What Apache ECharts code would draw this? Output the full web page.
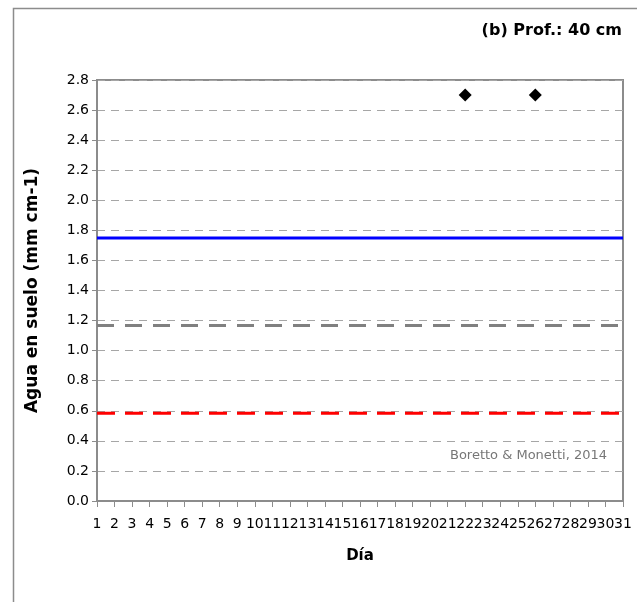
<!DOCTYPE html>
<html>
<head>
<meta charset="utf-8">
<script src="https://cdn.jsdelivr.net/npm/echarts@6/dist/echarts.min.js"></script>
<style>html,body{margin:0;padding:0;background:#fff}#c{width:637px;height:602px}</style>
</head>
<body>
<div id="c"></div>
<script>
// Data
var days = ['1','2','3','4','5','6','7','8','9','10','11','12','13','14','15','16','17','18','19','20','21','22','23','24','25','26','27','28','29','30','31'];
var obsDays = ['22', '26'];
var obsValues = [2.7, 2.7];
var lineDays = ['1', '31'];
var capacidadCampo = [1.75, 1.75];
var umbral = [1.167, 1.167];
var puntoMarchitez = [0.583, 0.583];

var FONT = 'DejaVu Sans';
function pairs(xs, ys){ return xs.map(function(x,i){ return [x, ys[i]]; }); }

var chart = echarts.init(document.getElementById('c'), null, {renderer:'canvas'});
chart.setOption({
  animation:false,
  backgroundColor:'#fff',
  textStyle:{fontFamily:FONT},
  graphic:[{
    type:'rect', left:11, top:6, shape:{width:640, height:610},
    style:{fill:'none', stroke:'#8c8c8c', lineWidth:1.5}, silent:true, z:-1
  },{
    type:'text', right:15, top:23,
    style:{text:'(b) Prof.: 40 cm', font:'bold 16px "DejaVu Sans"', fill:'#000'}
  },{
    type:'text', right:30, top:449,
    style:{text:'Boretto & Monetti, 2014', font:'13px "DejaVu Sans"', fill:'#777'}
  }],
  grid:{left:97, top:80, right:14, bottom:101, show:true, borderColor:'#8c8c8c', borderWidth:2, backgroundColor:'transparent'},
  xAxis:{
    type:'category', data:days, boundaryGap:false,
    name:'Día', nameLocation:'middle', nameGap:48,
    nameTextStyle:{fontFamily:FONT, fontWeight:'bold', fontSize:15, color:'#000'},
    axisLine:{show:true, onZero:false, lineStyle:{color:'#8c8c8c', width:2}},
    axisTick:{show:true, interval:0, length:6, lineStyle:{color:'#8c8c8c', width:1}},
    axisLabel:{interval:0, margin:16, fontSize:14, color:'#000', fontFamily:FONT},
    splitLine:{show:false}
  },
  yAxis:{
    type:'value', min:0, max:2.8, interval:0.2,
    name:'Agua en suelo (mm cm-1)', nameLocation:'middle', nameGap:56,
    nameTextStyle:{fontFamily:FONT, fontWeight:'bold', fontSize:17, color:'#000'},
    axisLine:{show:true, lineStyle:{color:'#8c8c8c', width:2}},
    axisTick:{show:true, length:5, lineStyle:{color:'#8c8c8c', width:1}},
    axisLabel:{margin:8, fontSize:14, color:'#000', fontFamily:FONT,
      formatter:function(v){ return v.toFixed(1); }},
    splitLine:{show:true, lineStyle:{color:'#a6a6a6', width:1, type:[8,6]}}
  },
  series:[
    {type:'line', data:pairs(lineDays, capacidadCampo), symbol:'none',
      lineStyle:{color:'#0000ff', width:3, type:'solid'}, z:3},
    {type:'line', data:pairs(lineDays, umbral), symbol:'none',
      lineStyle:{color:'#808080', width:3, type:[17,11]}, z:3},
    {type:'line', data:pairs(lineDays, puntoMarchitez), symbol:'none',
      lineStyle:{color:'#ff0000', width:3, type:[18,10]}, z:3},
    {type:'scatter', data:pairs(obsDays, obsValues), symbol:'diamond', symbolSize:13,
      itemStyle:{color:'#000', opacity:1}, z:4}
  ]
});
</script>
</body>
</html>
